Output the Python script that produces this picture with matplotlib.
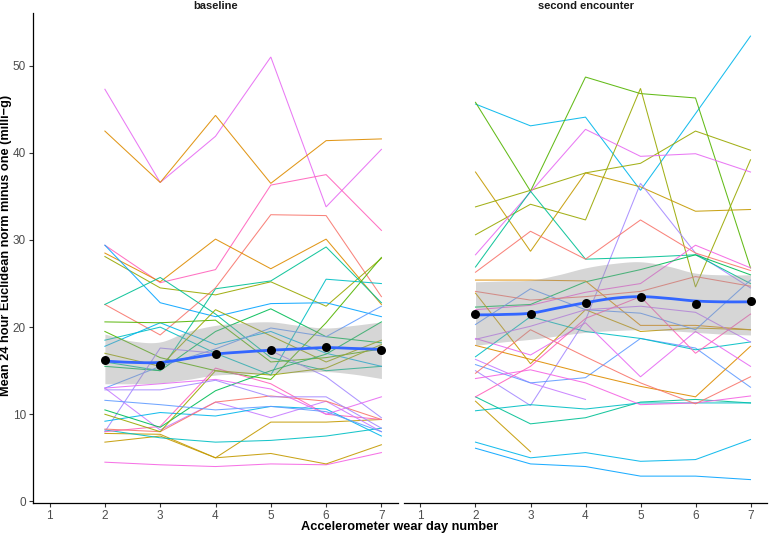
import numpy as np
import matplotlib
matplotlib.use("Agg")
import matplotlib.pyplot as plt

plt.rcParams['font.family'] = ['Liberation Sans', 'DejaVu Sans']

nan = np.nan
days = [2, 3, 4, 5, 6, 7]
xticks = [1, 2, 3, 4, 5, 6, 7]
yticks = [0, 10, 20, 30, 40, 50]
panels = ["baseline", "second encounter"]

# individual participant lines (days 2..7) and colour keys
baseline_lines = [
    ("pink",     [47.3, 36.6, 41.9, 51.0, 33.8, 40.4]),
    ("orange",   [42.5, 36.6, 44.3, 36.5, 41.4, 41.6]),
    ("rose",     [29.4, 25.1, 26.6, 36.3, 37.5, 31.1]),
    ("red",      [22.6, 19.1, 24.5, 32.9, 32.8, 23.5]),
    ("orange",   [28.5, 25.2, 30.1, 26.7, 30.1, 22.6]),
    ("olive",    [28.1, 24.5, 23.7, 25.2, 22.4, 27.9]),
    ("blue",     [29.4, 22.8, 21.2, 22.7, 22.8, 21.2]),
    ("teal",     [22.6, 25.7, 21.5, 16.5, 15.0, 15.5]),
    ("teal",     [16.0, 15.0, 24.4, 25.3, 29.2, 22.8]),
    ("cyan",     [18.5, 20.0, 17.0, 14.5, 25.5, 25.0]),
    ("sky",      [17.8, 20.5, 18.0, 19.5, 17.0, 15.5]),
    ("green",    [20.6, 20.5, 20.8, 16.0, 16.5, 17.5]),
    ("green2",   [15.5, 15.0, 19.5, 22.1, 18.9, 18.2]),
    ("blue2",    [13.0, 15.5, 17.5, 19.9, 18.9, 22.4]),
    ("green",    [19.5, 16.5, 15.0, 14.0, 20.5, 28.0]),
    ("olive",    [17.0, 15.5, 22.0, 19.0, 16.0, 18.5]),
    ("magenta",  [4.5, 4.2, 4.0, 4.3, 4.2, 5.6]),
    ("gold",     [6.8, 7.5, 5.0, 5.5, 4.3, 6.5]),
    ("gold",     [7.8, 7.7, 5.0, 9.1, 9.1, 9.4]),
    ("cyan",     [8.2, 7.3, 6.8, 7.0, 7.5, 8.4]),
    ("rose",     [8.0, 8.6, 15.3, 13.5, 10.0, 9.4]),
    ("purple",   [8.0, 17.6, 17.0, 17.3, 14.3, 9.6]),
    ("purple2",  [13.0, 8.2, 11.4, 9.6, 11.5, 8.0]),
    ("sky",      [9.2, 10.2, 9.8, 10.9, 10.6, 7.5]),
    ("red",      [8.3, 8.0, 11.4, 12.1, 11.5, 9.4]),
    ("green2",   [10.5, 8.5, 12.7, 15.0, 16.9, 20.6]),
    ("pink",     [13.0, 13.5, 14.0, 12.9, 10.0, 12.0]),
    ("olive",    [10.0, 8.0, 15.0, 14.5, 15.3, 18.0]),
    ("blue2",    [11.6, 11.1, 10.5, 10.9, 10.3, 8.0]),
    ("purple",   [12.8, 12.8, 13.9, 12.0, 12.0, 8.4]),
]

second_lines = [
    ("sky",      [45.6, 43.1, 44.1, 35.7, 44.5, 53.4]),
    ("green",    [45.8, 35.6, 48.7, 46.8, 46.3, 26.8]),
    ("olive",    [30.6, 34.1, 32.3, 47.4, 24.6, 39.2]),
    ("gold",     [37.8, 28.7, 37.7, 36.1, 33.3, 33.5]),
    ("olive",    [33.8, 35.7, 37.7, 38.8, 42.5, 40.3]),
    ("pink",     [28.3, 35.5, 42.7, 39.6, 39.9, 37.8]),
    ("purple",   [15.0, 11.0, 20.8, 36.5, 28.5, 24.5]),
    ("teal",     [26.9, 35.6, 27.8, 28.0, 28.3, 25.0]),
    ("red",      [26.3, 31.0, 27.8, 32.3, 28.5, 26.5]),
    ("magenta",  [22.0, 22.5, 24.0, 25.0, 29.4, 26.8]),
    ("green2",   [22.3, 22.6, 25.2, 26.6, 28.3, 26.0]),
    ("orange",   [25.4, 25.4, 25.3, 20.2, 20.2, 19.7]),
    ("gold",     [23.9, 15.8, 22.0, 19.5, 19.9, 19.7]),
    ("gold",     [11.5, 5.7, nan, nan, nan, nan]),
    ("blue",     [6.1, 4.3, 4.0, 2.9, 2.9, 2.5]),
    ("sky",      [6.8, 5.0, 5.6, 4.6, 4.8, 7.1]),
    ("teal",     [12.0, 8.9, 9.6, 11.4, 11.7, 11.3]),
    ("cyan",     [10.4, 11.1, 10.6, 11.3, 11.3, 11.3]),
    ("purple2",  [16.3, 13.6, 11.7, nan, nan, nan]),
    ("blue2",    [15.7, 13.6, 14.2, 18.7, 17.6, 13.1]),
    ("magenta",  [14.1, 15.1, 13.6, 11.1, 11.3, 12.1]),
    ("orange",   [17.9, 16.3, 14.7, 13.2, 12.0, 17.8]),
    ("red",      [14.7, 19.7, 16.6, 13.6, 11.2, 14.3]),
    ("cyan",     [16.6, 21.2, 19.5, 18.7, 17.4, 18.3]),
    ("pink",     [18.7, 16.8, 20.5, 14.3, 19.5, 15.5]),
    ("blue2",    [20.3, 24.4, 22.0, 21.6, 19.7, 25.4]),
    ("red",      [24.1, 23.1, 23.5, 24.1, 25.8, 24.7]),
    ("purple2",  [18.6, 20.1, 22.0, 22.4, 21.7, 18.3]),
    ("rose",     [12.0, 15.5, 21.0, 23.5, 17.0, 21.5]),
]

colour_map = {
    "pink": "#E76BF3", "magenta": "#F564E3", "rose": "#FF62BC",
    "red": "#F8766D", "orange": "#DE8C00", "gold": "#C49A00",
    "olive": "#99A800", "green": "#53B400", "green2": "#00BC56",
    "teal": "#00C094", "cyan": "#00BFC4", "sky": "#00B6EB",
    "blue": "#06A4FF", "blue2": "#619CFF", "purple": "#A58AFF",
    "purple2": "#C77CFF",
}

# daily means (black points)
baseline_means = [16.25, 15.6, 16.9, 17.4, 17.7, 17.4]
second_means = [21.5, 21.45, 22.8, 23.5, 22.7, 23.0]

# smoother and its confidence band at half-day steps
smooth_x = [2, 2.5, 3, 3.5, 4, 4.5, 5, 5.5, 6, 6.5, 7]
baseline_fit = [16.1, 15.95, 15.95, 16.4, 16.9, 17.15, 17.35, 17.5, 17.65, 17.55, 17.45]
baseline_hi = [19.2, 18.4, 18.3, 19.5, 20.2, 20.5, 20.6, 20.2, 19.9, 20.2, 20.6]
baseline_lo = [13.5, 13.5, 13.6, 14.0, 14.5, 14.6, 14.7, 14.8, 14.9, 14.6, 14.1]
second_fit = [21.4, 21.45, 21.6, 22.2, 22.8, 23.3, 23.5, 23.3, 23.0, 22.9, 22.9]
second_hi = [25.2, 25.3, 25.4, 26.0, 26.8, 27.3, 27.5, 27.0, 26.2, 26.0, 26.0]
second_lo = [17.9, 18.3, 18.6, 19.0, 19.4, 19.6, 19.7, 19.6, 19.4, 19.2, 19.1]


def catmull(x, y, n=12):
    x = np.asarray(x, float); y = np.asarray(y, float)
    px = np.concatenate([[2 * x[0] - x[1]], x, [2 * x[-1] - x[-2]]])
    py = np.concatenate([[2 * y[0] - y[1]], y, [2 * y[-1] - y[-2]]])
    xs, ys = [], []
    for i in range(1, len(px) - 2):
        t = np.linspace(0, 1, n, endpoint=False)
        p0, p1, p2, p3 = py[i - 1], py[i], py[i + 1], py[i + 2]
        yy = 0.5 * ((2 * p1) + (-p0 + p2) * t + (2 * p0 - 5 * p1 + 4 * p2 - p3) * t ** 2
                    + (-p0 + 3 * p1 - 3 * p2 + p3) * t ** 3)
        xx = px[i] + (px[i + 1] - px[i]) * t
        xs.append(xx); ys.append(yy)
    xs.append([x[-1]]); ys.append([y[-1]])
    return np.concatenate(xs), np.concatenate(ys)


fig = plt.figure(figsize=(7.69, 5.35), dpi=100)
W, H = 769, 535
ax1 = fig.add_axes([33 / W, 1 - 502.7 / H, 365 / W, (502.7 - 13) / H])
ax2 = fig.add_axes([404 / W, 1 - 502.7 / H, 363 / W, (502.7 - 13) / H])

datasets = [
    (ax1, baseline_lines, baseline_means, baseline_fit, baseline_hi, baseline_lo),
    (ax2, second_lines, second_means, second_fit, second_hi, second_lo),
]

for i, (ax, lines, means, fit, hi, lo) in enumerate(datasets):
    for key, vals in lines:
        ax.plot(days, vals, color=colour_map[key], lw=0.75, alpha=0.9, zorder=2,
                solid_joinstyle='miter')
    sx, shi = catmull(smooth_x, hi)
    _, slo = catmull(smooth_x, lo)
    _, sfit = catmull(smooth_x, fit)
    ax.fill_between(sx, slo, shi, color="#999999", alpha=0.4, lw=0, zorder=3)
    ax.plot(sx, sfit, color="#3366FF", lw=2.0, zorder=4)
    ax.scatter(days, means, s=42, color="black", zorder=5, linewidths=0)

    ax.set_xlim(0.7, 7.3)
    ax.set_ylim(-0.15, 56.05)
    ax.set_xticks(xticks)
    ax.set_xticklabels([str(t) for t in xticks])
    ax.set_yticks(yticks)
    for s in ["top", "right"]:
        ax.spines[s].set_visible(False)
    ax.spines["bottom"].set_color("black")
    ax.spines["bottom"].set_linewidth(0.9)
    ax.tick_params(axis="both", colors="#333333", labelcolor="#4D4D4D",
                   labelsize=8.5, length=3, width=0.8, pad=2)
    ax.set_title(panels[i], fontsize=8, fontweight="bold", color="#1A1A1A",
                 pad=3)
    ax.set_facecolor("white")

ax1.spines["left"].set_color("black")
ax1.spines["left"].set_linewidth(0.9)
ax2.spines["left"].set_visible(False)
ax2.tick_params(axis="y", left=False, labelleft=False)

fig.text((33 + 767) / 2 / W, 1 - 527 / H, "Accelerometer wear day number",
         ha="center", va="center", fontsize=9.2, fontweight="bold")
fig.text(6 / W, 1 - 245 / H, "Mean 24 hour Euclidean norm minus one (milli\u2212g)",
         ha="center", va="center", rotation=90, fontsize=9.2, fontweight="bold")

fig.savefig("out.png", dpi=100, facecolor="white")
